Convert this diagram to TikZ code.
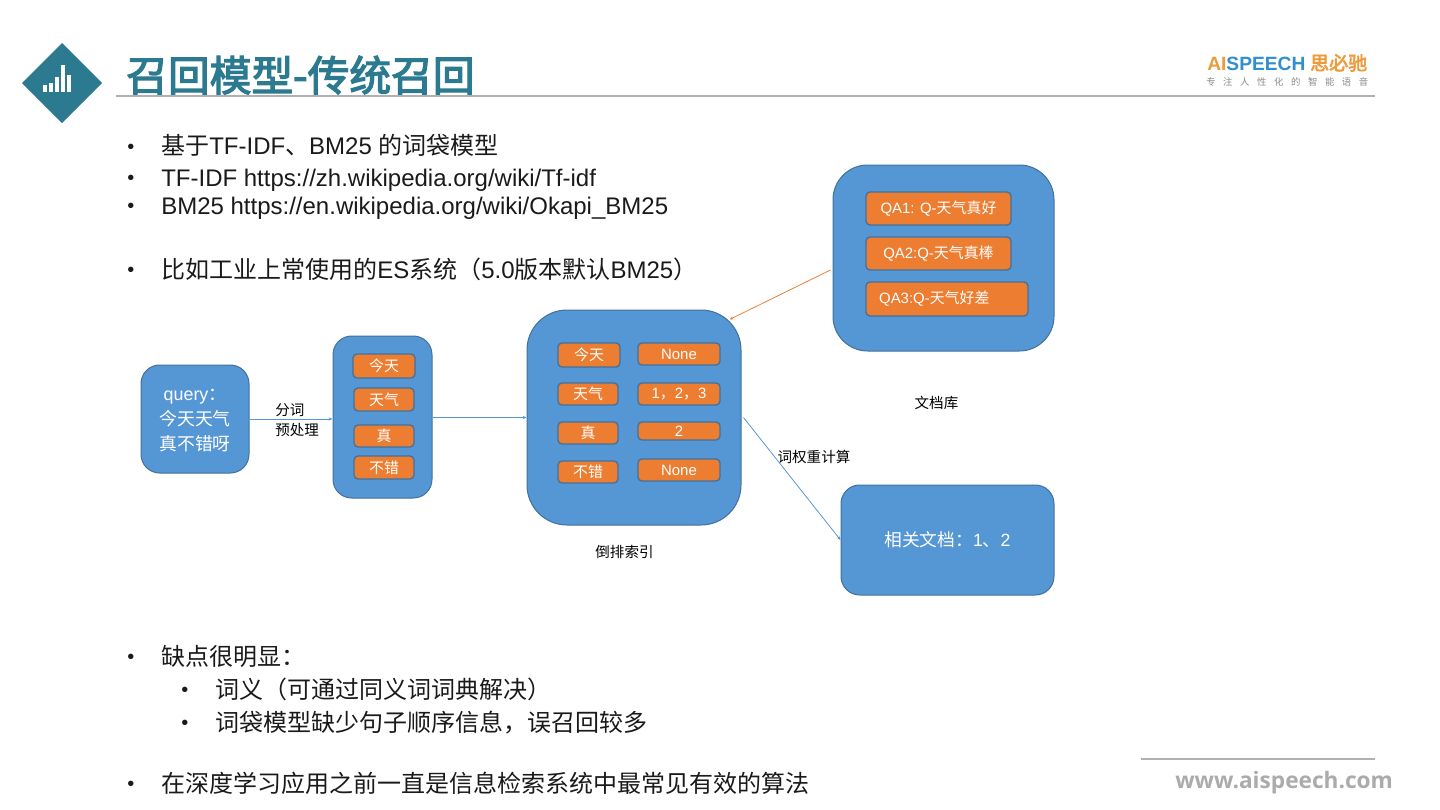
\documentclass[tikz,border=0pt]{standalone}
\usepackage{fontspec}
\setmainfont{Liberation Sans}
\newfontfamily\cjk{Noto Sans CJK SC}
\newfontfamily\cjkt[FakeBold=3]{Noto Sans CJK SC}
\newfontfamily\webf{Open Sans}
\newcommand{\zh}[1]{{\cjk #1}}
\definecolor{boxblue}{HTML}{5596D4}
\definecolor{boxedge}{HTML}{41719C}
\definecolor{chiporange}{HTML}{ED7D31}
\definecolor{teal}{HTML}{2B7A90}
\definecolor{rulegray}{HTML}{B0B0B0}
\definecolor{webgray}{HTML}{ABABAB}
\definecolor{logoblue}{HTML}{2F8FD0}
\definecolor{logoorange}{HTML}{EE9A3A}
\definecolor{logogray}{HTML}{8A8A8A}
\definecolor{ink}{HTML}{1A1A1A}
\usetikzlibrary{arrows.meta}
\tikzset{
  box/.style={draw=boxedge,fill=boxblue,line width=0.75pt,inner sep=0pt,text=white,align=center},
  chip/.style={draw=boxedge,fill=chiporange,line width=1pt,rounded corners=3pt,inner sep=0pt,text=white,align=center,font=\fontsize{11.2pt}{13pt}\selectfont},
  body/.style={anchor=base west,inner sep=0pt,text=ink,font=\fontsize{18pt}{20pt}\selectfont},
  dotb/.style={anchor=base,inner sep=0pt,text=ink,font=\fontsize{15pt}{18pt}\selectfont},
  note/.style={inner sep=0pt,text=black,align=left,font=\fontsize{10.9pt}{15pt}\selectfont},
  link/.style={line width=0.55pt,-{Stealth[length=3pt,width=2.4pt]}},
  bluelink/.style={link,draw=boxblue,fill=boxblue},
  orangelink/.style={link,draw=chiporange,fill=chiporange},
  rulel/.style={draw=rulegray,line width=1.5pt},
  bar/.style={fill=white,draw=none}
}
% name, x1, y1, x2, y2 (reference pixels), options, text
\newcommand{\bx}[7]{%
  \pgfmathsetmacro{\cxv}{(#2+#4)/2}\pgfmathsetmacro{\cyv}{(#3+#5)/2}%
  \pgfmathsetmacro{\wv}{(#4-#2)*0.75}\pgfmathsetmacro{\hv}{(#5-#3)*0.75}%
  \node[#6,minimum width=\wv pt,minimum height=\hv pt] (#1) at (\cxv,\cyv) {#7};}
\begin{document}
\begin{tikzpicture}[x=0.75pt,y=-0.75pt]
\useasboundingbox (0,0) rectangle (1440,810);
% header
\fill[teal] (62,43) -- (102,83) -- (62,123) -- (22,83) -- cycle;
\fill[bar] (43,85) rectangle (47,92);
\fill[bar] (49,83) rectangle (52.5,92);
\fill[bar] (55,77) rectangle (58.5,92);
\fill[bar] (61,65) rectangle (64.5,92);
\fill[bar] (67,75) rectangle (71,92);
\node[anchor=base west,inner sep=0pt,text=teal,font=\cjkt\fontsize{31.3pt}{34pt}\selectfont] (title) at (126,91) {召回模型-传统召回};
\coordinate (hl) at (116,95.5); \coordinate (hr) at (1375,95.5);
\draw[rulel] (hl) -- (hr);
% logo
\node[anchor=base west,inner sep=0pt,font=\fontsize{14.4pt}{16pt}\selectfont\bfseries] (logoa) at (1207,70)
  {\textcolor{logoorange}{AI}\textcolor{logoblue}{SPEECH}};
\node[anchor=base west,inner sep=0pt,text=logoorange,font=\fontsize{14.2pt}{16pt}\selectfont] (logob) at (1310,70) {{\cjkt 思必驰}};
\node[anchor=base west,inner sep=0pt,text=logogray,font=\fontsize{7pt}{8pt}\selectfont] (logoc) at (1206,85)
  {\makebox[121.5pt][s]{\zh{专}\hfill\zh{注}\hfill\zh{人}\hfill\zh{性}\hfill\zh{化}\hfill\zh{的}\hfill\zh{智}\hfill\zh{能}\hfill\zh{语}\hfill\zh{音}}};
% bullets top
\node[dotb] (d1) at (131,153) {•};
\node[body] (t1) at (161,154) {\zh{基于}TF-IDF\zh{、}BM25 \zh{的词袋模型}};
\node[dotb] (d2) at (131,184) {•};
\node[body] (t2) at (161,186) {TF-IDF https://zh.wikipedia.org/wiki/Tf-idf};
\node[dotb] (d3) at (131,212) {•};
\node[body] (t3) at (161,214) {BM25 https://en.wikipedia.org/wiki/Okapi\_BM25};
\node[dotb] (d4) at (131,276) {•};
\node[body] (t4) at (161,278) {\zh{比如工业上常使用的}ES\zh{系统（}5.0\zh{版本默认}BM25\zh{）}};
% query
\bx{q}{141}{365}{249}{473}{box,rounded corners=14pt}{}
\node[inner sep=0pt,text=white,align=center,font=\fontsize{13.4pt}{19pt}\selectfont] (qt) at (195,420.5) {query\zh{：}\\\zh{今天天气}\\\zh{真不错呀}};
% words
\bx{w}{333}{336}{432}{498}{box,rounded corners=14pt}{}
\bx{w1}{353}{354}{415}{378}{chip}{\zh{今天}}
\bx{w2}{354}{388}{414}{411}{chip}{\zh{天气}}
\bx{w3}{354}{425}{414}{447}{chip}{\zh{真}}
\bx{w4}{354}{456}{414}{479}{chip}{\zh{不错}}
% index
\bx{x}{527}{310}{741}{525}{box,rounded corners=30pt}{}
\bx{xa1}{558}{343}{620}{367}{chip}{\zh{今天}}
\bx{xb1}{638}{343}{720}{365}{chip}{None}
\bx{xa2}{558}{383}{618}{405}{chip}{\zh{天气}}
\bx{xb2}{638}{383}{720}{405}{chip}{1\zh{，}2\zh{，}3}
\bx{xa3}{558}{422}{618}{444}{chip}{\zh{真}}
\bx{xb3}{638}{422}{720}{440}{chip}{2}
\bx{xa4}{558}{461}{618}{483}{chip}{\zh{不错}}
\bx{xb4}{638}{459}{720}{481}{chip}{None}
% docs
\bx{doc}{833}{165}{1054}{351}{box,rounded corners=26pt}{}
\bx{da}{866}{192}{1011}{225}{chip}{QA1: Q-\zh{天气真好}}
\bx{db}{866}{237}{1011}{270}{chip}{QA2:Q-\zh{天气真棒}}
\bx{dc}{866}{282}{1028}{316}{chip}{QA3:Q-\zh{天气好差}\hspace{19pt}}
% related
\bx{rel}{841}{485}{1054}{595}{box,rounded corners=14pt,font=\fontsize{13.3pt}{16pt}\selectfont}{\zh{相关文档：}1\zh{、}2}
% connectors
\draw[bluelink] (q.east) -- (q.east -| w.west);
\draw[bluelink] (w.east |- x.west) -- (x.west);
\draw[orangelink] ([xshift=-1.5pt,yshift=-9pt]doc.west) -- ([xshift=-9pt,yshift=-7.5pt]x.north east);
\draw[bluelink] ([xshift=1.5pt]x.east) -- (rel.west);
% labels
\node[note,anchor=west] (l1) at (275,420) {\zh{分词}\\\zh{预处理}};
\node[note] (l2) at (624.5,552) {\zh{倒排索引}};
\node[note] (l3) at (936.5,403) {\zh{文档库}};
\node[note] (l4) at (814,457) {\zh{词权重计算}};
% bullets bottom
\node[dotb] (d5) at (131,663) {•};
\node[body] (t5) at (161,665) {\zh{缺点很明显：}};
\node[dotb] (d6) at (185,696) {•};
\node[body] (t6) at (215,698) {\zh{词义（可通过同义词词典解决）}};
\node[dotb] (d7) at (185,729) {•};
\node[body] (t7) at (215,731) {\zh{词袋模型缺少句子顺序信息，误召回较多}};
\node[dotb] (d8) at (131,790) {•};
\node[body] (t8) at (161,792) {\zh{在深度学习应用之前一直是信息检索系统中最常见有效的算法}};
% footer
\coordinate (fl) at (1141,759); \coordinate (fr) at (1375,759);
\draw[rulel] (fl) -- (fr);
\node[anchor=base west,inner sep=0pt,text=webgray,font=\webf\bfseries\fontsize{17pt}{20pt}\selectfont] (web) at (1175,788) {www.aispeech.com};
\end{tikzpicture}
\end{document}
